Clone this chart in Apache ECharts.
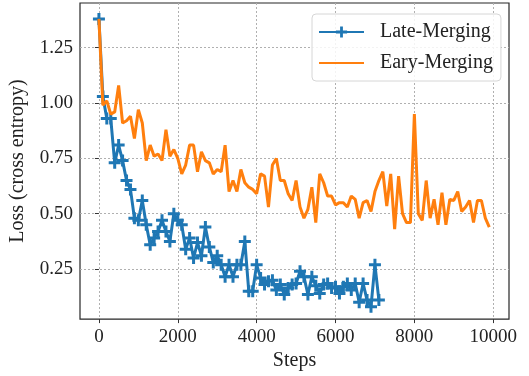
<!DOCTYPE html>
<html>
<head>
<meta charset="utf-8">
<script src="https://cdn.jsdelivr.net/npm/echarts@6/dist/echarts.min.js"></script>
<style>
  html, body { margin: 0; padding: 0; background: #fff; }
  #chart { width: 529px; height: 376px; }
</style>
</head>
<body>
<div id="chart"></div>
<script>
    // logged every 100 steps
    const stepSize = 100;

    const lateMerging = [
        1.38, 1.03, 0.93, 0.93, 0.73, 0.81, 0.74, 0.65, 0.61, 0.48,
        0.47, 0.56, 0.45, 0.36, 0.39, 0.42, 0.47, 0.42, 0.375, 0.50,
        0.47, 0.45, 0.34, 0.39, 0.30, 0.37, 0.31, 0.44, 0.35, 0.28,
        0.31, 0.27, 0.215, 0.27, 0.215, 0.27, 0.27, 0.375, 0.15, 0.15,
        0.27, 0.21, 0.18, 0.195, 0.20, 0.155, 0.18, 0.135, 0.165, 0.18,
        0.185, 0.24, 0.215, 0.135, 0.215, 0.175, 0.14, 0.18, 0.185, 0.165,
        0.17, 0.14, 0.17, 0.185, 0.155, 0.185, 0.10, 0.185, 0.11, 0.08,
        0.27, 0.11
    ];

    const earlyMerging = [
        1.38, 0.99, 1.01, 0.95, 0.96, 1.08, 0.91, 0.92, 0.94, 0.84,
        0.97, 0.91, 0.74, 0.81, 0.76, 0.77, 0.74, 0.88, 0.76, 0.79,
        0.75, 0.68, 0.72, 0.81, 0.81, 0.69, 0.78, 0.74, 0.73, 0.68,
        0.70, 0.69, 0.81, 0.60, 0.65, 0.60, 0.70, 0.64, 0.62, 0.61,
        0.59, 0.68, 0.67, 0.53, 0.72, 0.75, 0.65, 0.65, 0.59, 0.56,
        0.65, 0.53, 0.48, 0.52, 0.62, 0.46, 0.68, 0.64, 0.58, 0.58,
        0.54, 0.55, 0.55, 0.53, 0.58, 0.565, 0.48, 0.55, 0.56, 0.51,
        0.60, 0.65, 0.69, 0.535, 0.68, 0.43, 0.67, 0.50, 0.46, 0.46,
        0.95, 0.50, 0.47, 0.65, 0.48, 0.565, 0.45, 0.595, 0.45, 0.565,
        0.56, 0.60, 0.51, 0.53, 0.56, 0.46, 0.56, 0.56, 0.48, 0.44
    ];

    const xTicks = [0, 2000, 4000, 6000, 8000, 10000];
    const yTicks = [0.25, 0.50, 0.75, 1.00, 1.25];

    const seriesNames = ['Late-Merging', 'Eary-Merging'];

    function toPairs(vals) {
        let out = [];
        for (let i = 0; i < vals.length; i++) {
            out.push([i * stepSize, vals[i]]);
        }
        return out;
    }

    const font = '"Liberation Serif", "DejaVu Serif", serif';
    // matplotlib style plus marker
    const plusPath = 'path://M3.75,0H6.25V3.75H10V6.25H6.25V10H3.75V6.25H0V3.75H3.75Z';

    let chart = echarts.init(document.getElementById('chart'));
    let option = {
        animation: false,
        backgroundColor: '#fff',
        grid: {
            left: 79,
            right: 20,
            top: 3,
            bottom: 53,
            show: true,
            borderColor: '#262626',
            borderWidth: 1.2
        },
        legend: {
            data: [
                { name: seriesNames[0] },
                { name: seriesNames[1], itemStyle: { opacity: 0 } }
            ],
            orient: 'vertical',
            left: 312,
            top: 14,
            itemWidth: 45,
            itemHeight: 14,
            itemGap: 11,
            padding: [8, 8, 8, 6],
            backgroundColor: 'rgba(255,255,255,0.85)',
            borderColor: '#d6d6d6',
            borderWidth: 1,
            borderRadius: 4,
            textStyle: {
                fontFamily: font,
                fontSize: 20,
                color: '#222',
                padding: [0, 0, 0, 11]
            }
        },
        xAxis: {
            type: 'value',
            min: -480,
            max: 10400,
            name: 'Steps',
            nameLocation: 'middle',
            nameGap: 29,
            nameTextStyle: { fontFamily: font, fontSize: 20, color: '#222' },
            axisLine: { show: false },
            axisTick: {
                show: true,
                customValues: xTicks,
                length: 4,
                lineStyle: { color: '#333' }
            },
            axisLabel: {
                customValues: xTicks,
                margin: 8,
                fontFamily: font,
                fontSize: 19,
                color: '#222',
                formatter: function (v) { return String(v); }
            },
            splitLine: {
                show: true,
                lineStyle: { color: '#b0b0b0', type: [2, 2], width: 1 }
            }
        },
        yAxis: {
            type: 'value',
            min: 0.024,
            max: 1.452,
            name: 'Loss (cross entropy)',
            nameLocation: 'middle',
            nameGap: 52,
            nameTextStyle: { fontFamily: font, fontSize: 20, color: '#222' },
            axisLine: { show: false },
            axisTick: {
                show: true,
                customValues: yTicks,
                length: 4,
                lineStyle: { color: '#333' }
            },
            axisLabel: {
                customValues: yTicks,
                margin: 7,
                fontFamily: font,
                fontSize: 19,
                color: '#222',
                formatter: function (v) { return v.toFixed(2); }
            },
            splitLine: {
                show: true,
                lineStyle: { color: '#b0b0b0', type: [2, 2], width: 1 }
            }
        },
        series: [
            {
                name: seriesNames[0],
                type: 'line',
                data: toPairs(lateMerging),
                symbol: plusPath,
                symbolSize: 12,
                showAllSymbol: true,
                color: '#1f77b4',
                itemStyle: { color: '#1f77b4' },
                lineStyle: { color: '#1f77b4', width: 3 },
                z: 2
            },
            {
                name: seriesNames[1],
                type: 'line',
                data: toPairs(earlyMerging),
                symbol: 'none',
                color: '#ff7f0e',
                itemStyle: { color: '#ff7f0e' },
                lineStyle: { color: '#ff7f0e', width: 3 },
                z: 3
            }
        ]
    };
    chart.setOption(option, true);
    window.addEventListener('resize', function () {
        chart.resize();
    });
</script>
</body>
</html>
